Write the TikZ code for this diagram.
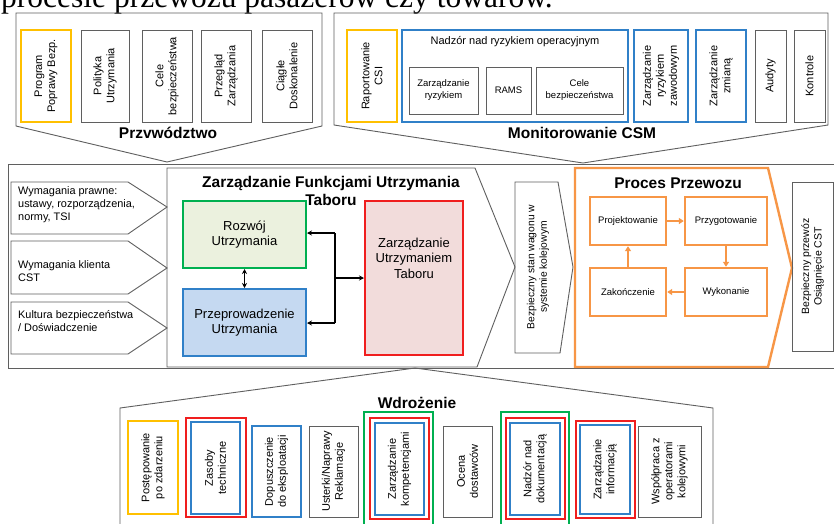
\documentclass[tikz,border=0pt]{standalone}
\usepackage{fontspec}
\setmainfont{Liberation Sans}
\newfontfamily\serifT{Liberation Serif}
\usetikzlibrary{arrows.meta}
\definecolor{ylw}{RGB}{255,192,0}
\definecolor{blu}{RGB}{48,128,200}
\definecolor{rd}{RGB}{240,30,30}
\definecolor{grn}{RGB}{0,176,80}
\definecolor{org}{RGB}{247,150,70}
\definecolor{dg}{RGB}{95,95,95}
\definecolor{lgrn}{RGB}{235,241,222}
\definecolor{lblu}{RGB}{197,217,241}
\definecolor{lpnk}{RGB}{242,220,219}
\begin{document}
\begin{tikzpicture}[x=1pt,y=-1pt,
  box/.style={draw=dg, line width=0.9pt, align=center, inner sep=1pt, font=\fontsize{11}{13}\selectfont},
  vb/.style={box, rotate=90},
  sm/.style={box, font=\fontsize{9.5}{12}\selectfont},
  ybox/.style={draw=ylw, line width=1.8pt},
  bbox/.style={draw=blu, line width=1.8pt},
  rbox/.style={draw=rd, line width=1.8pt},
  gbox/.style={draw=grn, line width=1.8pt},
  obox/.style={draw=org, line width=2.4pt},
  shp/.style={draw=dg, line width=0.9pt},
  ttl/.style={font=\fontsize{15.5}{18}\selectfont\bfseries, inner sep=0pt, align=center},
  inp/.style={anchor=west, align=left, inner sep=0pt, font=\fontsize{10.9}{13}\selectfont},
  barr/.style={line width=1.5pt, -{Stealth[length=5pt,width=5pt]}},
  oarr/.style={draw=org, line width=2pt, -{Triangle[length=5pt,width=6pt]}}
]
\useasboundingbox (0,0) rectangle (834,523);
\clip (0,0) rectangle (834,523);
\fill[white] (0,0) rectangle (834,523);

% cut-off heading text
\node[anchor=base east, inner sep=0pt, font=\serifT\fontsize{31.5}{34}\selectfont] (head) at (553,7.5) {w procesie przewozu pasażerów czy towarów.};

% ---------- top left: Przywodztwo
\draw[shp] (16,13) -- (322,13) -- (322,126) -- (167,162) -- (16,126) -- cycle;
\node[vb, ybox, minimum width=92pt, minimum height=50pt] (prog) at (46,76) {Program\\Poprawy Bezp.};
\node[vb, minimum width=92pt, minimum height=48pt] (polit) at (105,76) {Polityka\\Utrzymania};
\node[vb, minimum width=92pt, minimum height=50pt] (cele1) at (167,76) {Cele\\bezpieczeństwa};
\node[vb, minimum width=92pt, minimum height=50pt] (przeg) at (226,76) {Przegląd\\Zarządzania};
\node[vb, minimum width=92pt, minimum height=50pt] (ciagle) at (287,76) {Ciągłe\\Doskonalenie};
\node[ttl] (przyw) at (168,133) {Przvwództwo};

% ---------- top right: Monitorowanie CSM
\draw[shp] (334,13) -- (828,13) -- (828,125) -- (583,163) -- (334,125) -- cycle;
\node[vb, ybox, minimum width=92pt, minimum height=50pt] (csi) at (372,76) {Raportowanie\\CSI};
\node[box, bbox, minimum width=226pt, minimum height=92pt] (nadzor) at (515,76) {};
\node[inner sep=0pt, font=\fontsize{11}{13}\selectfont] (nadzorT) at (515,42) {Nadzór nad ryzykiem operacyjnym};
\node[sm, minimum width=69pt, minimum height=47pt] (zryz) at (443.5,90.5) {Zarządzanie\\ryzykiem};
\node[sm, minimum width=45pt, minimum height=47pt] (rams) at (508.5,90.5) {RAMS};
\node[sm, minimum width=87pt, minimum height=47pt] (cele2) at (579.5,90.5) {Cele\\bezpieczeństwa};
\node[vb, bbox, minimum width=92pt, minimum height=54pt] (zawod) at (661,76) {Zarządzanie\\ryzykiem\\zawodowym};
\node[vb, bbox, minimum width=92pt, minimum height=50pt] (zmiana) at (721,76) {Zarządzanie\\zmianą};
\node[vb, minimum width=92pt, minimum height=31pt] (audyty) at (770.5,76) {Audyty};
\node[vb, minimum width=92pt, minimum height=31pt] (kontr) at (809.5,76) {Kontrole};
\node[ttl] (monit) at (582,133) {Monitorowanie CSM};

% ---------- main band
\draw[shp] (8,164) rectangle (840,368);

% inputs
\draw[shp] (11,182) -- (128,182) -- (167,207) -- (128,234) -- (11,234) -- cycle;
\draw[shp] (11,241) -- (128,241) -- (167,268) -- (128,294) -- (11,294) -- cycle;
\draw[shp] (11,302) -- (128,302) -- (167,328) -- (128,354) -- (11,354) -- cycle;
\node[inp] (in1) at (18,205) {Wymagania prawne:\\ustawy, rozporządzenia,\\normy, TSI};
\node[inp] (in2) at (18,271) {Wymagania klienta\\CST};
\node[inp] (in3) at (18,321) {Kultura bezpieczeństwa\\/ Doświadczenie};

% maintenance function pentagon
\draw[shp] (167,168) -- (475,168) -- (515,267) -- (477,367) -- (167,367) -- cycle;
\node[ttl] (zfut) at (331,191) {Zarządzanie Funkcjami Utrzymania\\Taboru};
\node[box, draw=grn, line width=2pt, fill=lgrn, minimum width=123pt, minimum height=67pt, font=\fontsize{13}{15.5}\selectfont] (rozwoj) at (244.5,234.5) {Rozwój\\Utrzymania};
\node[box, draw=blu, line width=2pt, fill=lblu, minimum width=123pt, minimum height=67pt, font=\fontsize{13}{15.5}\selectfont] (przep) at (244.5,322.5) {Przeprowadzenie\\Utrzymania};
\node[box, draw=rd, line width=2pt, fill=lpnk, minimum width=98pt, minimum height=154pt] (zut) at (414,278) {};
\node[align=center, inner sep=0pt, font=\fontsize{13}{15.5}\selectfont] (zutT) at (414,258) {Zarządzanie\\Utrzymaniem\\Taboru};
\coordinate (j1) at (335,233);
\coordinate (j2) at (335,323);
\coordinate (j3) at (335,278);
\draw[barr] (j1) -- (rozwoj.east |- j1);
\draw[line width=1.5pt] (j1) -- (j2);
\draw[barr] (j2) -- (przep.east |- j2);
\draw[barr] (j3) -- (zut.west |- j3);
\draw[line width=1.5pt, {Stealth[length=5pt,width=5pt]}-{Stealth[length=5pt,width=5pt]}] (rozwoj.south) -- (przep.north);

% safe wagon state
\draw[shp] (515,182) -- (558,182) -- (573,267) -- (560,353) -- (515,353) -- cycle;
\node[rotate=90, align=center, inner sep=0pt, font=\fontsize{10.3}{12.5}\selectfont] (stan) at (538,267) {Bezpieczny stan wagonu w\\systemie kolejowym};

% transport process
\draw[draw=org, line width=2.4pt] (575,168) -- (768,168) -- (792,268) -- (768,367) -- (575,367) -- cycle;
\node[ttl] (proces) at (678,183) {Proces Przewozu};
\node[sm, obox, minimum width=76pt, minimum height=48pt] (proj) at (628,221) {Projektowanie};
\node[sm, obox, minimum width=82pt, minimum height=48pt] (przyg) at (726,221) {Przygotowanie};
\node[sm, obox, minimum width=76pt, minimum height=48pt] (zak) at (628,292) {Zakończenie};
\node[sm, obox, minimum width=82pt, minimum height=48pt] (wyk) at (726,292) {Wykonanie};
\draw[oarr] (proj.east) -- (przyg.west);
\draw[oarr] (przyg.south) -- (wyk.north);
\draw[oarr] (wyk.west) -- (zak.east);
\draw[oarr] (zak.north) -- (proj.south);

% safe transport
\node[vb, minimum width=169pt, minimum height=41pt, font=\fontsize{10.5}{12.5}\selectfont] (bprz) at (812.5,266.5) {Bezpieczny przewóz\\Osiągnięcie CST};

% ---------- bottom: Wdrozenie
\draw[shp] (415,368) -- (713,408) -- (713,540) -- (120,540) -- (120,408) -- cycle;
\node[ttl] (wdroz) at (417,403) {Wdrożenie};
\node[vb, ybox, minimum width=93pt, minimum height=50pt] (post) at (153,467.5) {Postępowanie\\po zdarzeniu};
\node[vb, rbox, minimum width=99pt, minimum height=60pt] (zasR) at (216,467.5) {};
\node[vb, bbox, minimum width=92pt, minimum height=49pt] (zas) at (215.5,468) {Zasoby\\techniczne};
\node[vb, bbox, minimum width=91pt, minimum height=49pt] (dop) at (276.5,471.5) {Dopuszczenie\\do eksploatacji};
\node[vb, minimum width=91pt, minimum height=49pt] (ust) at (333.5,471.5) {Usterki/Naprawy\\Reklamacje};
\node[vb, gbox, minimum width=130pt, minimum height=69pt] (kompG) at (398.5,477) {};
\node[vb, rbox, minimum width=101pt, minimum height=59pt] (kompR) at (399.5,468.5) {};
\node[vb, bbox, minimum width=92pt, minimum height=49pt] (komp) at (399.5,469) {Zarządzanie\\kompetencjami};
\node[vb, minimum width=91pt, minimum height=49pt] (ocena) at (467.5,471.5) {Ocena\\dostawców};
\node[vb, gbox, minimum width=130pt, minimum height=68pt] (dokG) at (535,477) {};
\node[vb, rbox, minimum width=101pt, minimum height=59pt] (dokR) at (535.5,468.5) {};
\node[vb, bbox, minimum width=92pt, minimum height=50pt] (dok) at (535,469) {Nadzór nad\\dokumentacją};
\node[vb, rbox, minimum width=97pt, minimum height=59pt] (infR) at (605.5,469.5) {};
\node[vb, bbox, minimum width=89pt, minimum height=50pt] (inf) at (605,469.5) {Zarządzanie\\informacją};
\node[vb, minimum width=91pt, minimum height=63pt] (wsp) at (669.5,471.5) {Współpraca z\\operatorami\\kolejowymi};
\end{tikzpicture}
\end{document}
